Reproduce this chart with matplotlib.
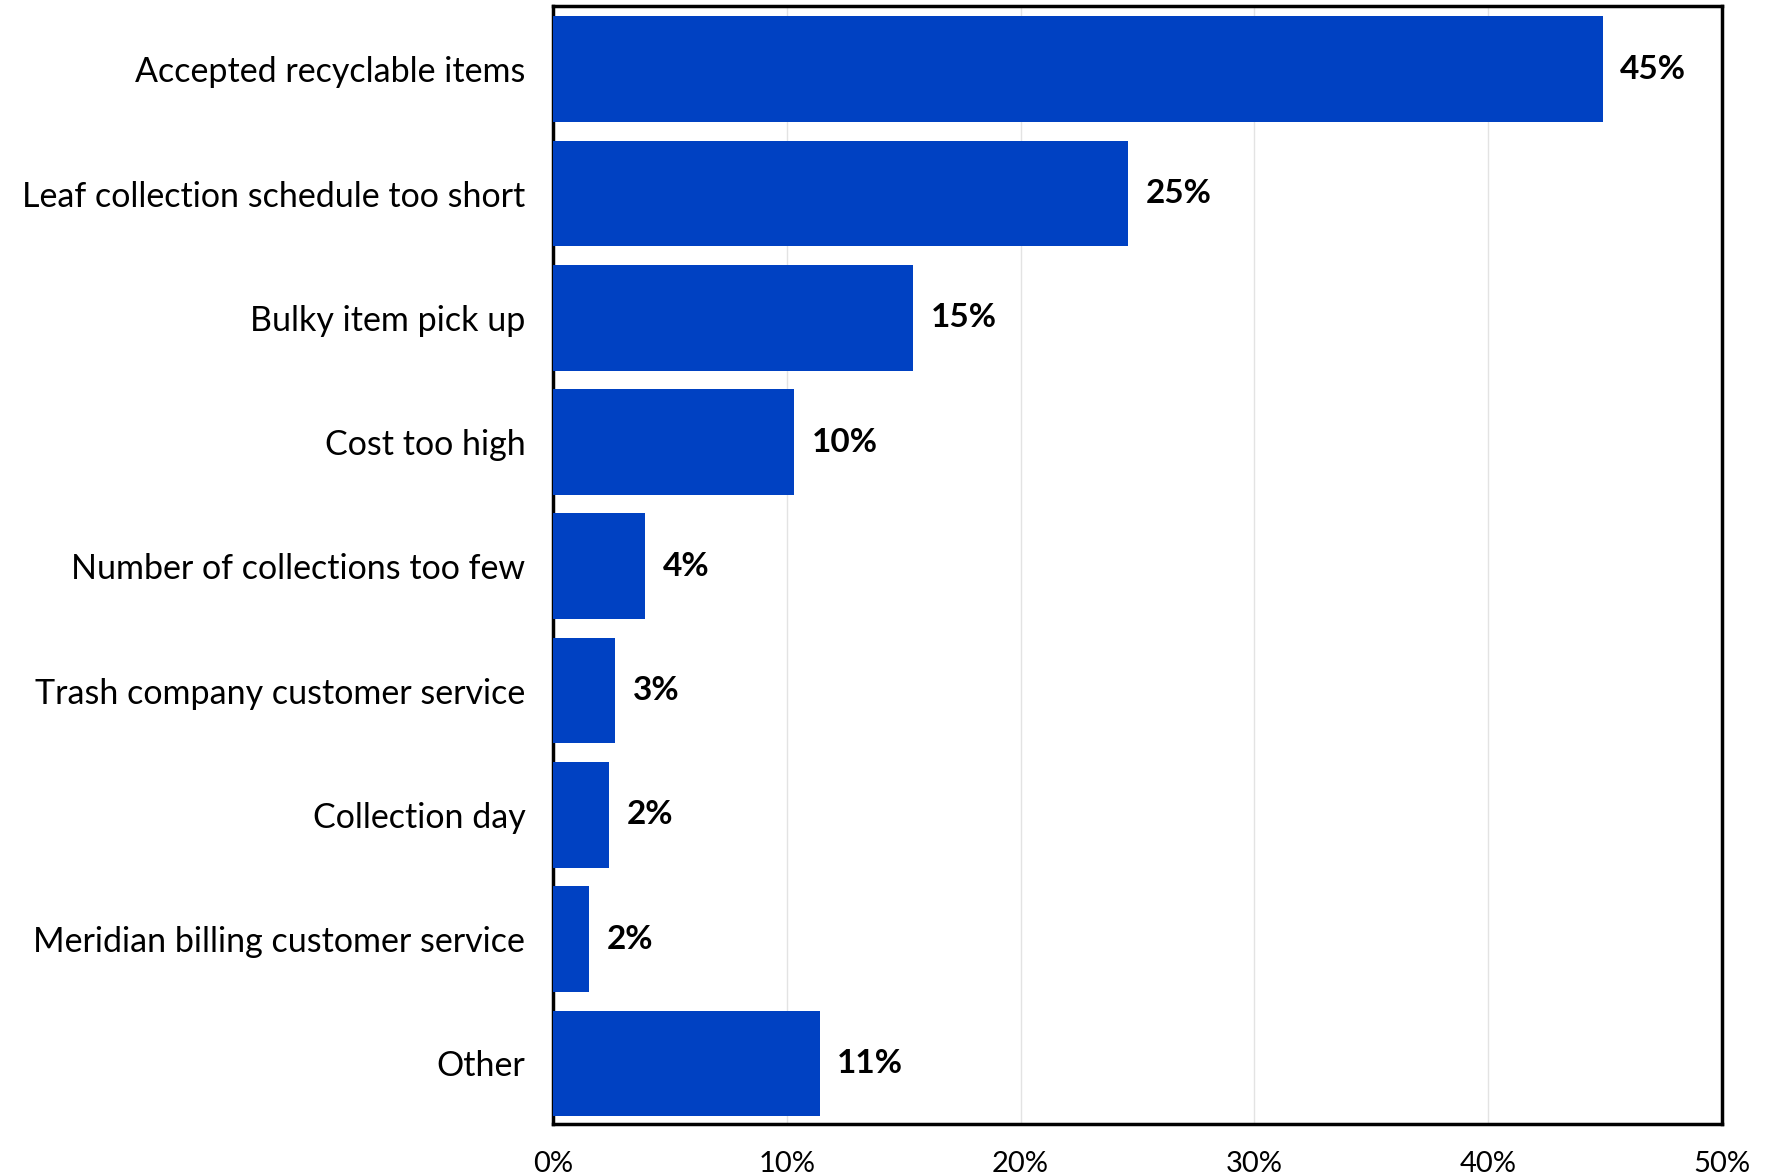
import matplotlib.pyplot as plt
from matplotlib.ticker import FuncFormatter

plt.rcParams['font.family'] = ['Lato', 'DejaVu Sans']

categories = [
    "Accepted recyclable items",
    "Leaf collection schedule too short",
    "Bulky item pick up",
    "Cost too high",
    "Number of collections too few",
    "Trash company customer service",
    "Collection day",
    "Meridian billing customer service",
    "Other",
]
# share of responses, percent
shares = [44.9, 24.6, 15.4, 10.3, 3.95, 2.65, 2.4, 1.54, 11.4]

bar_color = "#0041C2"

fig = plt.figure(figsize=(17.67, 11.76), dpi=100)
ax = fig.add_axes([0.313, 0.044, 0.6615, 0.951])

ypos = list(range(len(categories)))
ax.barh(ypos, shares, height=0.85, color=bar_color, zorder=3)

for y, v in zip(ypos, shares):
    ax.text(v + 0.75, y, f"{v:.0f}%", va="center", ha="left",
            fontsize=24, fontweight="bold", color="black")

ax.set_xlim(0, 50)
ax.set_ylim(8.49, -0.51)
ax.set_xticks(range(0, 51, 10))
ax.xaxis.set_major_formatter(FuncFormatter(lambda x, _: f"{x:.0f}%"))
ax.set_yticks(ypos)
ax.set_yticklabels(categories)
ax.tick_params(axis="both", length=0)
ax.tick_params(axis="y", pad=20, labelsize=24.5)
ax.tick_params(axis="x", pad=19, labelsize=21)
ax.grid(axis="x", color="#e3e3e3", linewidth=1, zorder=0)

for s in ax.spines.values():
    s.set_linewidth(2.5)
    s.set_color("black")

fig.savefig("out.png", dpi=100)
